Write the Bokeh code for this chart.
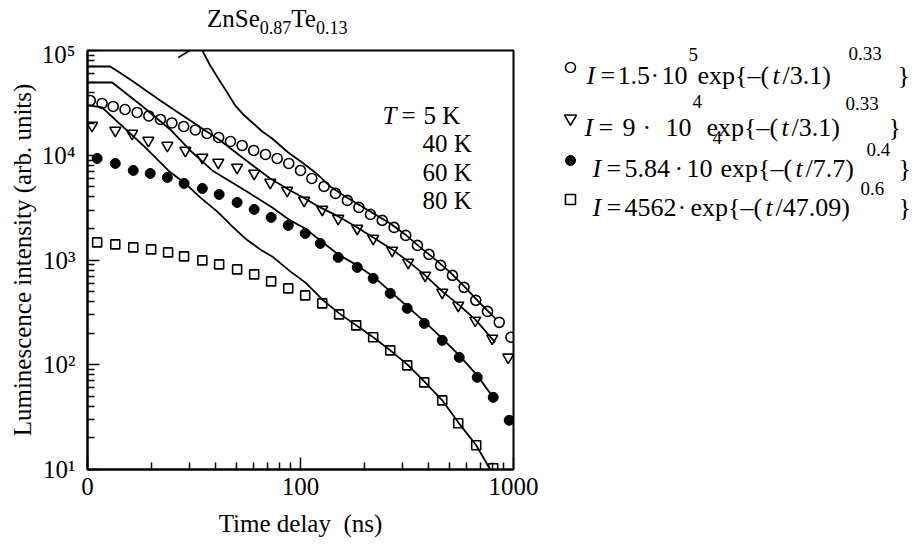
from bokeh.plotting import figure
from bokeh.models import FixedTicker, Label, Range1d, Div
from bokeh.layouts import row, column
from bokeh.core.properties import value
from bokeh.embed import file_html
from bokeh.resources import INLINE

# ---------------- data ----------------
x_tick_values = [10, 100, 1000]
x_tick_labels = ["0", "100", "1000"]
y_tick_values = [10, 100, 1000, 10000, 100000]
y_tick_labels = ["10\u00b9", "10\u00b2", "10\u00b3", "10\u2074", "10\u2075"]

# fits (markers)
circ_t = [10.3, 11.7, 13.2, 15.0, 17.1, 19.4, 22.0, 24.9, 28.3, 32.1, 36.4, 41.3, 46.9,
          53.2, 60.3, 68.5, 77.7, 88.1, 100, 113, 129, 146, 166, 188, 213, 242, 275,
          312, 354, 401, 455, 517, 586, 665, 755, 857, 972]
circ_I = [33340, 31220, 29220, 27350, 25610, 23710, 21960, 20330, 18830, 17430, 16140,
          14780, 13540, 12400, 11110, 10180, 9322, 8350, 7161, 6006, 5039, 4321, 3705,
          3177, 2724, 2388, 2047, 1717, 1378, 1131, 888, 713, 548, 412, 323, 254, 183]

tri_t = [10.5, 13.5, 16.2, 19.3, 23.7, 28.8, 34.6, 41.1, 50.4, 60.6, 72.1, 86.6, 104,
         126.5, 150.3, 184.6, 219.4, 269.5, 320.3, 384.9, 462.8, 550.1, 661.1, 794.3, 944.3]
tri_I = [19250, 17250, 16140, 13840, 12400, 11110, 9528, 8537, 7649, 6705, 5502, 4615,
         3705, 3040, 2494, 2002, 1607, 1235, 948.7, 713, 490.7, 368.8, 265.3, 178.6, 117.7]

dot_t = [11.1, 13.5, 16.4, 19.7, 23.7, 28.4, 34.6, 41.5, 50.4, 60.6, 72.8, 87.6, 105.2,
         123.8, 150.3, 184.6, 219.4, 263.8, 316.9, 380.9, 462.8, 556.1, 675.5, 803, 954.5]
dot_I = [9322, 8350, 7161, 6705, 6140, 5382, 4822, 4227, 3544, 3040, 2550, 2139, 1794,
         1440, 1059, 849.9, 667.4, 480.1, 345.3, 248.3, 170.9, 117.7, 75.84, 48.86, 29.48]

sq_t = [11.1, 13.5, 16.4, 19.9, 23.9, 28.4, 34.6, 41.5, 50.4, 60.6, 72.8, 87.6, 105.2,
        126.5, 151.9, 182.6, 219.4, 263.8, 316.9, 380.9, 462.8, 550.1, 668.2, 803]
sq_I = [1472, 1409, 1319, 1262, 1182, 1082, 991.3, 907.8, 813.5, 728.7, 624.8, 535.8,
        459.3, 385.4, 302.6, 237.7, 183, 137.2, 98.7, 67.95, 45.74, 27.6, 17.02, 10.27]

# measured decays (lines)
l5_t = [26.66, 33.09, 34.19, 37.68, 41.08, 45.28, 49.36, 53.83, 59.33, 66.1, 73.65, 80.27,
        87.57, 94.44, 101.9, 117.2, 137.9, 162.2, 190.7, 224.3, 263.8, 310.1, 364.8, 429,
        504.5, 593.3, 697.9, 820.6]
l5_I = [85740, 111600, 104500, 71930, 54050, 39740, 29870, 24510, 20560, 16870, 14460,
        12400, 10630, 9528, 8537, 6854, 5039, 4046, 3319, 2724, 2235, 1755, 1319, 1013,
        761.5, 548, 385.4, 277.2]

l40_t = [10, 12.79, 15.87, 21.95, 30.35, 41.98, 58.05, 72.06, 89.45, 102.9, 123.8, 153.6,
         184.6, 219.4, 269.5, 320.3, 384.9, 462.8, 550.1, 661.1, 820.6]
l40_I = [70360, 70360, 52880, 33340, 21480, 13840, 8350, 6006, 4615, 3957, 3177, 2550,
         2047, 1642, 1262, 969.6, 713, 501.5, 377.1, 271.2, 163.6]

l60_t = [10, 13.06, 17.68, 24.45, 30.35, 38.5, 55.01, 73.65, 89.45, 105.2, 123.8, 150.3,
         184.6, 219.4, 263.8, 316.9, 380.9, 462.8, 556.1, 675.5, 820.6]
l60_I = [49510, 49510, 30520, 17630, 11110, 7161, 4615, 3177, 2388, 2002, 1538, 1131,
         888, 697.4, 501.5, 360.7, 259.5, 178.6, 122.9, 79.2, 45.74]

l80_t = [10, 11.72, 13.94, 18.26, 23.93, 28.75, 33.81, 41.08, 47.78, 55.01, 64.69, 73.65,
         89.45, 105.2, 127.9, 151.9, 182.6, 219.4, 263.8, 316.9, 380.9, 462.8, 550.1,
         668.2, 777.3]
l80_I = [29870, 28580, 20560, 12400, 7161, 5382, 3957, 2846, 2093, 1607, 1262, 1082,
         778.4, 611.3, 412, 309.4, 237.7, 183, 137.2, 100.9, 69.42, 45.74, 28.2, 17.02, 10]

temps = ["5 K", "40 K", "60 K", "80 K"]

# ---------------- layout geometry (page pixels) ----------------
FONT = "Liberation Serif"
FL, FT, FW, FH = 87, 50, 426, 419      # frame left / top / width / height
FB = FT + FH
TITLE_H = 40
MAIN_R = 40
MAIN_W = FL + FW + MAIN_R
TOTAL_H = 539
LEG_W = 911 - MAIN_W


def blank(width, height, x0, x1, y0, y1):
    f = figure(width=width, height=height, x_range=Range1d(x0, x1),
               y_range=Range1d(y1, y0), output_backend="svg", toolbar_location=None,
               x_axis_location=None, y_axis_location=None,
               min_border=0, min_border_left=0, min_border_right=0,
               min_border_top=0, min_border_bottom=0)
    f.grid.visible = False
    f.outline_line_color = None
    return f


# ---------------- main plot ----------------
p = figure(frame_width=FW, frame_height=FH, x_axis_type="log", y_axis_type="log",
           x_range=(10, 1000), y_range=(10, 1e5),
           output_backend="svg", toolbar_location=None,
           min_border_left=FL, min_border_right=MAIN_R,
           min_border_top=FT - TITLE_H, min_border_bottom=TOTAL_H - FB)
p.xgrid.visible = False
p.ygrid.visible = False
p.outline_line_color = "black"
p.outline_line_width = 2

minor_x = [20, 30, 40, 50, 60, 70, 80, 90, 200, 300, 400, 500, 600, 700, 800, 900]
minor_y = [k * 10 ** n for n in range(1, 5) for k in range(2, 10)]
p.xaxis.ticker = FixedTicker(ticks=x_tick_values, minor_ticks=minor_x)
p.yaxis.ticker = FixedTicker(ticks=y_tick_values, minor_ticks=minor_y)
p.xaxis.major_label_overrides = {v: s for v, s in zip(x_tick_values, x_tick_labels)}
p.yaxis.major_label_overrides = {v: s for v, s in zip(y_tick_values, y_tick_labels)}

for ax in (p.xaxis, p.yaxis):
    ax.axis_line_width = 2
    ax.axis_line_color = "black"
    ax.major_tick_in = 12
    ax.major_tick_out = 0
    ax.minor_tick_in = 7
    ax.minor_tick_out = 0
    ax.major_tick_line_width = 1.5
    ax.minor_tick_line_width = 1.5
    ax.major_label_text_font = FONT
    ax.major_label_text_font_size = "25px"
    ax.major_label_text_color = "black"
    ax.axis_label_text_font = FONT
    ax.axis_label_text_font_size = "25px"
    ax.axis_label_text_font_style = "normal"
    ax.axis_label_text_color = "black"

p.xaxis.axis_label = "Time delay\u00a0 (ns)"
p.yaxis.axis_label = "Luminescence intensity (arb. units)"
p.xaxis.major_label_standoff = 8
p.xaxis.axis_label_standoff = 12
p.yaxis.major_label_standoff = 12
p.yaxis.axis_label_standoff = 3

for tt, ii in ((l5_t, l5_I), (l40_t, l40_I), (l60_t, l60_I), (l80_t, l80_I)):
    p.line(tt, ii, line_color="black", line_width=1.8)

p.scatter(circ_t, circ_I, marker="circle", size=10, fill_color=None,
          line_color="black", line_width=1.6)
p.scatter(tri_t, tri_I, marker="inverted_triangle", size=11, fill_color=None,
          line_color="black", line_width=1.6)
p.scatter(dot_t, dot_I, marker="circle", size=10, fill_color="black",
          line_color="black", line_width=1)
p.scatter(sq_t, sq_I, marker="square", size=9, fill_color=None,
          line_color="black", line_width=1.6)


def put_label(x, y, text, style="normal"):
    p.add_layout(Label(x=x - FL, y=FB - y, x_units="screen", y_units="screen",
                       text=text, text_font=FONT, text_font_size="25px",
                       text_font_style=style, text_color="black",
                       text_align="left", text_baseline="alphabetic"))


put_label(382, 115, "T", style="italic")
put_label(401, 115, "=")
put_label(423, 115, temps[0])
for k, lab in enumerate(temps[1:]):
    put_label(422, 143 + 28.5 * k, lab)

# ---------------- title strip ----------------
SUB = 'style="font-size:18px; vertical-align:-7px; line-height:0"'
title = Div(text=f'ZnSe<span {SUB}>0.87</span>Te<span {SUB}>0.13</span>',
            width=MAIN_W, height=TITLE_H,
            styles={"font-family": FONT, "font-size": "25px", "line-height": "30px",
                    "color": "black", "white-space": "nowrap", "padding-left": "207px",
                    "padding-top": "4px", "box-sizing": "border-box", "margin": "0px"})

# ---------------- legend panel ----------------
lg = blank(LEG_W, TOTAL_H, MAIN_W, 911, 0, TOTAL_H)


def txt(fig, x, y, s, size=25, style="normal", align="left"):
    fig.text([x], [y], text=[s], text_font=value(FONT), text_font_size=value(f"{size}px"),
             text_font_style=style, text_color="black", text_align=align,
             text_baseline="alphabetic")


rows_y = [75, 127, 168, 207]
mk_x = [570] * 4
lg.scatter([mk_x[0]], [rows_y[0] - 8], marker="circle", size=10, fill_color=None,
           line_color="black", line_width=1.6)
lg.scatter([mk_x[1]], [rows_y[1] - 9], marker="inverted_triangle", size=12, fill_color=None,
           line_color="black", line_width=1.6)
lg.scatter([mk_x[2]], [rows_y[2] - 8], marker="circle", size=10, fill_color="black",
           line_color="black", line_width=1)
lg.scatter([mk_x[3]], [rows_y[3] - 8], marker="square", size=10, fill_color=None,
           line_color="black", line_width=1.6)

FS = 26
SS = 19
legend_rows = [
    [("I", 586, 0, "italic", FS), ("=", 600, 0, "normal", FS), ("1.5", 617, 0, "normal", FS),
     ("\u00b7", 650, 0, "normal", FS), ("10", 661, 0, "normal", FS),
     ("5", 688, 21, "normal", SS), ("exp{\u2013(", 697, 0, "normal", FS),
     ("t", 772, 0, "italic", FS), ("/3.1)", 782, 0, "normal", FS),
     ("0.33", 848, 22, "normal", SS), ("}", 897, 0, "normal", FS)],
    [("I", 584, 0, "italic", FS), ("=", 598, 0, "normal", FS), ("9", 622, 0, "normal", FS),
     ("\u00b7", 642, 0, "normal", FS), ("10", 665, 0, "normal", FS),
     ("4", 692, 26, "normal", SS), ("exp{\u2013(", 706, 0, "normal", FS),
     ("t", 781, 0, "italic", FS), ("/3.1)", 791, 0, "normal", FS),
     ("0.33", 845, 24, "normal", SS), ("}", 888, 0, "normal", FS)],
    [("I", 592, 0, "italic", FS), ("=", 606, 0, "normal", FS), ("5.84", 624, 0, "normal", FS),
     ("\u00b7", 674, 0, "normal", FS), ("10", 686, 0, "normal", FS),
     ("4", 712, 31, "normal", SS), ("exp{\u2013(", 720, 0, "normal", FS),
     ("t", 795, 0, "italic", FS), ("/7.7)", 805, 0, "normal", FS),
     ("0.4", 866, 19, "normal", SS), ("}", 898, 0, "normal", FS)],
    [("I", 592, 0, "italic", FS), ("=", 606, 0, "normal", FS), ("4562", 624, 0, "normal", FS),
     ("\u00b7", 677, 0, "normal", FS), ("exp{\u2013(", 690, 0, "normal", FS),
     ("t", 765, 0, "italic", FS), ("/47.09)", 775, 0, "normal", FS),
     ("0.6", 860, 19, "normal", SS), ("}", 898, 0, "normal", FS)],
]
for yb, pieces in zip(rows_y, legend_rows):
    for s, x, r, st, sz in pieces:
        txt(lg, x, yb - r, s, size=sz, style=st)

layout = row(column(title, p, spacing=0), lg, spacing=0)
open("out.html", "w").write(file_html(layout, INLINE))
